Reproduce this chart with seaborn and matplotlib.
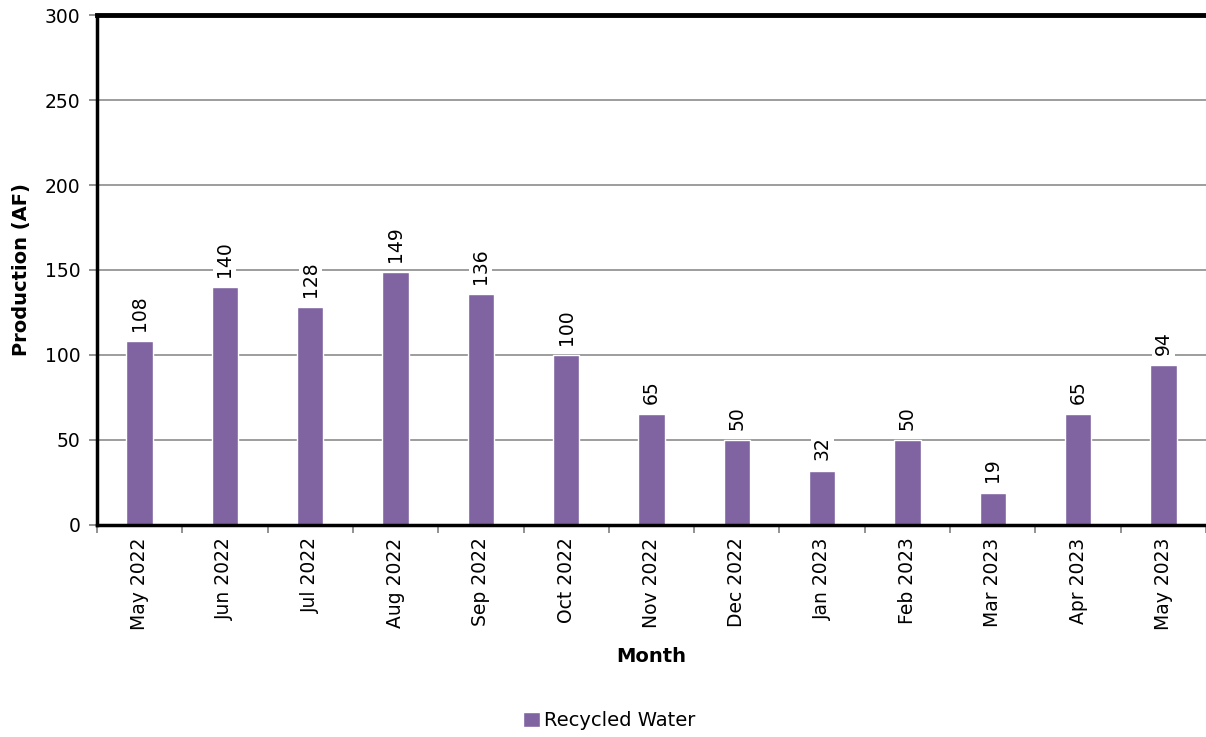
import pandas as pd
import numpy as np
import matplotlib.pyplot as plt
import seaborn as sns

months = ["May 2022", "Jun 2022", "Jul 2022", "Aug 2022", "Sep 2022", "Oct 2022",
          "Nov 2022", "Dec 2022", "Jan 2023", "Feb 2023", "Mar 2023", "Apr 2023", "May 2023"]
production = [108, 140, 128, 149, 136, 100, 65, 50, 32, 50, 19, 65, 94]
series = "Recycled Water"

df = pd.DataFrame({"Month": months, "Production": production, "Series": series})

sns.set_style("white")
plt.rcParams["font.family"] = ["DejaVu Sans"]
plt.rcParams["text.color"] = "black"
plt.rcParams["axes.labelcolor"] = "black"
plt.rcParams["xtick.color"] = "black"
plt.rcParams["ytick.color"] = "black"

fig = plt.figure(figsize=(12.06, 7.37), dpi=100)
ax = fig.add_axes([0.0804, 0.2877, 0.9196, 0.6919])

sns.barplot(data=df, x="Month", y="Production", hue="Series", palette=["#8064A2"],
            saturation=1, width=0.31, ax=ax, legend=True)

ax.set_ylim(0, 300)
ax.set_xlim(-0.5, len(months) - 0.5)
ax.set_yticks(range(0, 301, 50))
ax.yaxis.grid(True, color="#8c8c8c", linewidth=1.2)
ax.set_axisbelow(True)

# data labels
for i, v in enumerate(production):
    ax.text(i, v + 6, str(v), rotation=90, ha="center", va="bottom", fontsize=13.5,
            bbox=dict(facecolor="white", edgecolor="none", pad=1.5))

# spines
for s in ["left", "bottom", "top"]:
    ax.spines[s].set_visible(True)
    ax.spines[s].set_color("black")
ax.spines["right"].set_visible(False)
ax.spines["top"].set_linewidth(3.5)
ax.spines["bottom"].set_linewidth(2.5)
ax.spines["left"].set_linewidth(2.5)

# ticks: x ticks at category boundaries
ax.set_xticks(np.arange(len(months)))
ax.set_xticklabels(months, rotation=90, fontsize=13.5)
ax.set_xticks(np.arange(-0.5, len(months)), minor=True)
ax.tick_params(bottom=True, left=True)
ax.tick_params(axis="x", which="major", length=0, pad=9)
ax.tick_params(axis="x", which="minor", bottom=True, length=6, color="#7f7f7f", width=1.2, direction="out")
ax.tick_params(axis="y", length=6, color="#7f7f7f", labelcolor="black", width=1.2, direction="out",
               labelsize=13.5, pad=6)

ax.set_xlabel("Month", fontsize=14, fontweight="bold", labelpad=12)
ax.set_ylabel("Production (AF)", fontsize=14, fontweight="bold", labelpad=10)

ax.get_legend().remove()
handles, labels = ax.get_legend_handles_labels()
fig.legend(handles, labels, loc="center", bbox_to_anchor=(0.505, 0.022), frameon=False,
           fontsize=14, handlelength=0.85, handleheight=0.85, handletextpad=0.2)

plt.savefig("out.png", dpi=100)
